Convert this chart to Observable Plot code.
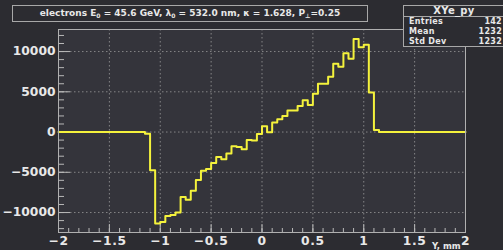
<!DOCTYPE html>
<html><head><meta charset="utf-8">
<script src="https://cdn.jsdelivr.net/npm/d3@7"></script>
<script src="https://cdn.jsdelivr.net/npm/@observablehq/plot@0.6"></script>
<style>
html,body{margin:0;padding:0;background:#2c2c31;overflow:hidden}
#wrap{position:relative;width:503px;height:250px}
.box{position:absolute;border:1px solid #a8a8a8;background:#2c2c31;color:#e8e8e8;font-family:"DejaVu Sans";font-weight:bold;box-sizing:border-box;white-space:nowrap}
.box sub{font-size:6px;line-height:0;vertical-align:-2px}
#title{left:12px;top:5px;width:356px;height:17px;font-size:9px;line-height:15px;text-align:center}
#stats{left:403px;top:5px;width:104px;height:42px;font-size:8px;letter-spacing:0.3px}
#stats .hd{position:absolute;left:0;top:0;width:100px;height:10px;border-bottom:1px solid #a8a8a8;font-size:10px;line-height:10px;text-align:center}
#stats .rw{position:absolute;left:5px;width:93px;height:10px;line-height:10px}
#stats .rw span{float:right}
#xlab{position:absolute;left:432px;top:241px;font-family:"DejaVu Sans";font-weight:bold;font-size:8.5px;color:#e8e8e8}
svg g[aria-label="y-axis tick label"] text{letter-spacing:0px}
</style></head><body><div id="wrap"></div>
<script>
// histogram XYe_py : 80 bins over [-2, 2]
const binLow = -2;
const binWidth = 0.05;
const counts = [
  0,0,0,0,0,0,0,0,0,0,
  0,0,0,0,0,0,0,-200,-4750,-11370,
  -11170,-10440,-10300,-10000,-8060,-8400,-7300,-5950,-4800,-4600,
  -3840,-3100,-3390,-2680,-1760,-1860,-2150,-1000,-1050,-250,
  720,-30,1200,1600,2000,2690,2690,3230,3950,3350,
  4760,6000,6000,6870,8490,8100,9800,9100,11550,10550,
  10840,4900,250,0,0,0,0,0,0,0,
  0,0,0,0,0,0,0,0,0,0
];
const xMajor = [-2,-1.5,-1,-0.5,0,0.5,1,1.5,2];
const xGrid = [-1.5,-1,-0.5,0,0.5,1,1.5];
const xMinor = d3.range(-20,21).map(d => d/10);
const yMajor = [-10000,-5000,0,5000,10000];
const yMinor = d3.range(-12,13).map(d => d*1000);
const titleHTML = "electrons E<sub>0</sub> = 45.6 GeV, &lambda;<sub>0</sub> = 532.0 nm, &kappa; = 1.628, P<sub>&perp;</sub>=0.25";
const statsTitle = "XYe_py";
const statsNames = ["Entries","Mean","Std Dev"];
const statsValues = ["142","1232","1232"];
const xTitle = "Y, mm";

const pts = counts.map((c,i) => ({x: binLow + i*binWidth, y: c}));
pts.push({x: binLow + counts.length*binWidth, y: counts[counts.length-1]});

const fmt = d => (d < 0 ? "\u2212" : "") + Math.abs(d);
const txt = "#e8e8e8";
const plot = Plot.plot({
  width: 503, height: 250,
  marginLeft: 58, marginRight: 38, marginTop: 29, marginBottom: 18,
  style: {background: "#2c2c31", color: txt, fontFamily: "DejaVu Sans", fontWeight: "bold", fontSize: "12.3px", letterSpacing: "0.7px"},
  x: {domain: [-2, 2]},
  y: {domain: [-12480, 12740]},
  marks: [
    Plot.frame({fill: "#34343b"}),
    Plot.gridX(xGrid, {stroke: "#9a9a9a", strokeOpacity: 0.8, strokeDasharray: "1.5,2.5"}),
    Plot.gridY(yMajor, {stroke: "#9a9a9a", strokeOpacity: 0.8, strokeDasharray: "1.5,2.5"}),
    Plot.axisY({ticks: yMinor, tickSize: -6, tickFormat: () => "", label: null, stroke: "#b8b8b8"}),
    Plot.axisY({ticks: yMajor, tickSize: -12, tickFormat: () => "", label: null, stroke: "#b8b8b8"}),
    Plot.axisY({ticks: yMajor, tickSize: 0, tickPadding: 3, tickFormat: fmt, label: null, fill: txt}),
    Plot.axisX({ticks: xMinor, tickSize: -4, tickFormat: () => "", label: null, stroke: "#b8b8b8"}),
    Plot.axisX({ticks: xMajor, tickSize: -8, tickFormat: () => "", label: null, stroke: "#b8b8b8"}),
    Plot.axisX({ticks: xMajor, tickSize: 0, tickPadding: 4, tickFormat: fmt, label: null, fill: txt}),
    Plot.line(pts, {x: "x", y: "y", curve: "step-after", stroke: "#f4f23c", strokeWidth: 2}),
    Plot.frame({stroke: "#b0b0b0"})
  ]
});
const wrap = document.getElementById("wrap");
wrap.appendChild(plot);
const t = document.createElement("div"); t.id = "title"; t.className = "box"; t.innerHTML = titleHTML; wrap.appendChild(t);
const s = document.createElement("div"); s.id = "stats"; s.className = "box";
let h = `<div class="hd">${statsTitle}</div>`;
statsNames.forEach((n,i) => { h += `<div class="rw" style="top:${11 + i*10}px">${n}<span>${statsValues[i]}</span></div>`; });
s.innerHTML = h; wrap.appendChild(s);
const xl = document.createElement("div"); xl.id = "xlab"; xl.textContent = xTitle; wrap.appendChild(xl);
</script></body></html>
